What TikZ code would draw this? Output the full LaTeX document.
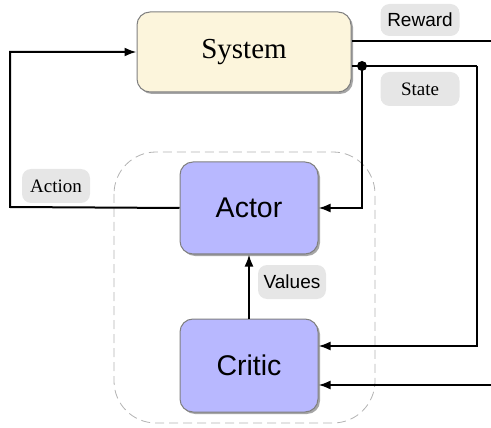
\documentclass[tikz,border=0pt]{standalone}
\usepackage{fontspec}
\setmainfont{Liberation Serif}
\setsansfont{Liberation Sans}
\usetikzlibrary{shadows,arrows.meta}
\definecolor{sysfill}{HTML}{FCF5DC}
\definecolor{acfill}{HTML}{B8B8FF}
\definecolor{lblfill}{HTML}{E6E6E6}
\tikzset{
  block/.style={draw=gray, line width=1pt, rounded corners=13pt, inner sep=0pt,
    drop shadow={shadow xshift=2pt, shadow yshift=-2pt, fill=gray!70, opacity=1}},
  sysbox/.style={block, fill=sysfill, minimum width=214pt, minimum height=80pt,
    font=\fontsize{29}{32}\selectfont\rmfamily},
  acbox/.style={block, fill=acfill, minimum width=138pt, minimum height=92pt,
    font=\fontsize{28.5}{32}\selectfont\sffamily},
  lbl/.style={fill=lblfill, rounded corners=9pt, inner sep=0pt, minimum width=72pt, minimum height=33pt},
  lblsf/.style={lbl, font=\fontsize{19}{22}\selectfont\sffamily},
  lblrm/.style={lbl, font=\fontsize{19}{22}\selectfont\rmfamily},
  conn/.style={line width=2pt, draw=black},
  arr/.style={conn, -{Latex[length=12pt,width=9pt]}},
}
\begin{document}
\begin{tikzpicture}[x=1pt,y=-1pt]
\useasboundingbox (0,0) rectangle (491,428);
\draw[gray!60, line width=0.8pt, dash pattern=on 9pt off 5pt, rounded corners=42pt] (114,152) rectangle (375,423);
\node[sysbox] (sys) at (244,52) {System};
\node[acbox] (actor) at (249,208) {Actor};
\node[acbox, minimum height=93pt] (critic) at (249,365.5) {Critic};
\node[lblsf, minimum width=79pt, minimum height=32pt] (rew) at (420,20) {Reward};
\node[lblrm, minimum width=79pt, minimum height=34pt] (st) at (420,89) {State};
\node[lblrm, minimum width=68pt, minimum height=34pt] (act) at (56,186) {Action};
\node[lblsf, minimum width=68pt, minimum height=34pt] (val) at (292,282) {Values};
\coordinate (rewend) at (491,41);
\coordinate (dot) at (362,66);
\coordinate (stcorner) at (477,66);
\coordinate (acorner) at (10,207);
\coordinate (inend) at (491,385);
% action
\draw[arr] (actor.west) -- (acorner) |- (sys.west);
% reward
\draw[conn] ([yshift=11pt]sys.east) -- (rewend);
% state
\draw[conn] ([yshift=-14pt]sys.east) -- (stcorner);
\draw[arr] (stcorner) |- ([yshift=19.5pt]critic.east);
\draw[arr] (dot) |- (actor.east);
\fill (dot) circle (5pt);
% external input
\draw[arr] (inend) -- ([yshift=-19.5pt]critic.east);
% values
\draw[arr] (critic.north) -- (actor.south);
\end{tikzpicture}
\end{document}
